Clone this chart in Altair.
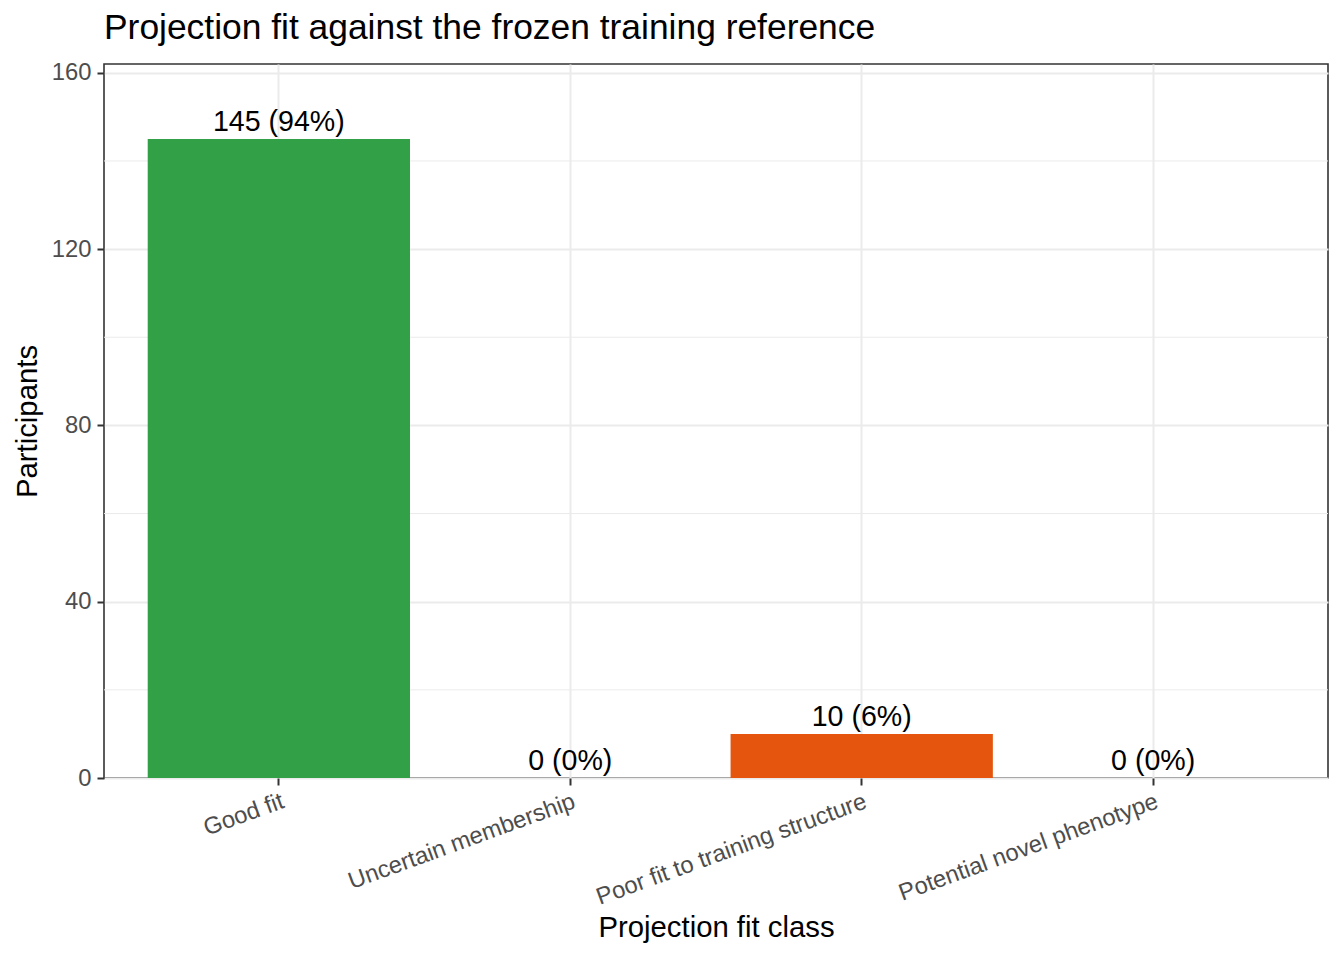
import altair as alt
import pandas as pd

categories = ["Good fit", "Uncertain membership", "Poor fit to training structure", "Potential novel phenotype"]
counts = [145, 0, 10, 0]
labels = ["145 (94%)", "0 (0%)", "10 (6%)", "0 (0%)"]
bar_colors = ["#31A046", "#9E9E9E", "#E6550D", "#756BB1"]
major_ticks = [0, 40, 80, 120, 160]
minor_ticks = [20, 60, 100, 140]

df = pd.DataFrame({"cls": categories, "n": counts, "lab": labels})
minor_df = pd.DataFrame({"v": minor_ticks})

FONT = "Liberation Sans"

x_enc = alt.X(
    "cls:N",
    sort=categories,
    title="Projection fit class",
    scale=alt.Scale(paddingInner=0.1, paddingOuter=0.15),
    axis=alt.Axis(
        labelAngle=-20,
        labelAlign="right",
        labelBaseline="top",
        labelPadding=4,
        labelLimit=0,
        bandPosition=0.5,
        titleY=158,
        titleBaseline="alphabetic",
    ),
)
y_scale = alt.Scale(domain=[0, 162], nice=False, zero=True)

minor = alt.Chart(minor_df).mark_rule(color="#EBEBEB", strokeWidth=1).encode(
    y=alt.Y("v:Q", scale=y_scale)
)

bars = alt.Chart(df).mark_bar().encode(
    x=x_enc,
    y=alt.Y(
        "n:Q",
        scale=y_scale,
        title="Participants",
        axis=alt.Axis(values=major_ticks, titleX=-68, titleBaseline="alphabetic", labelPadding=6),
    ),
    color=alt.Color("cls:N", sort=categories,
                    scale=alt.Scale(domain=categories, range=bar_colors), legend=None),
)

text = alt.Chart(df).mark_text(
    baseline="bottom", dy=-2, fontSize=28.6, font=FONT, color="black"
).encode(
    x=alt.X("cls:N", sort=categories),
    y=alt.Y("n:Q", scale=y_scale),
    text="lab:N",
)

chart = (
    alt.layer(minor, bars, text)
    .properties(
        width=1224,
        height=714,
        autosize=alt.AutoSizeParams(type="none"),
        padding={"left": 96, "top": 56, "right": 8, "bottom": 174},
        title=alt.TitleParams(
            "Projection fit against the frozen training reference",
            anchor="start", frame="group", fontSize=35.4, font=FONT,
            fontWeight="normal", color="black", offset=14,
        ),
    )
    .configure_view(stroke="#333333", strokeWidth=1.6)
    .configure_axis(
        domain=False,
        grid=True,
        gridColor="#EBEBEB",
        gridWidth=2,
        tickColor="#333333",
        tickWidth=2,
        tickSize=7,
        labelFont=FONT,
        labelFontSize=23.8,
        labelColor="#4D4D4D",
        labelPadding=5,
        titleFont=FONT,
        titleFontSize=29.3,
        titleFontWeight="normal",
        titleColor="black",
    )
)

chart.save("out.html", embed_options={"renderer": "svg", "actions": False})
